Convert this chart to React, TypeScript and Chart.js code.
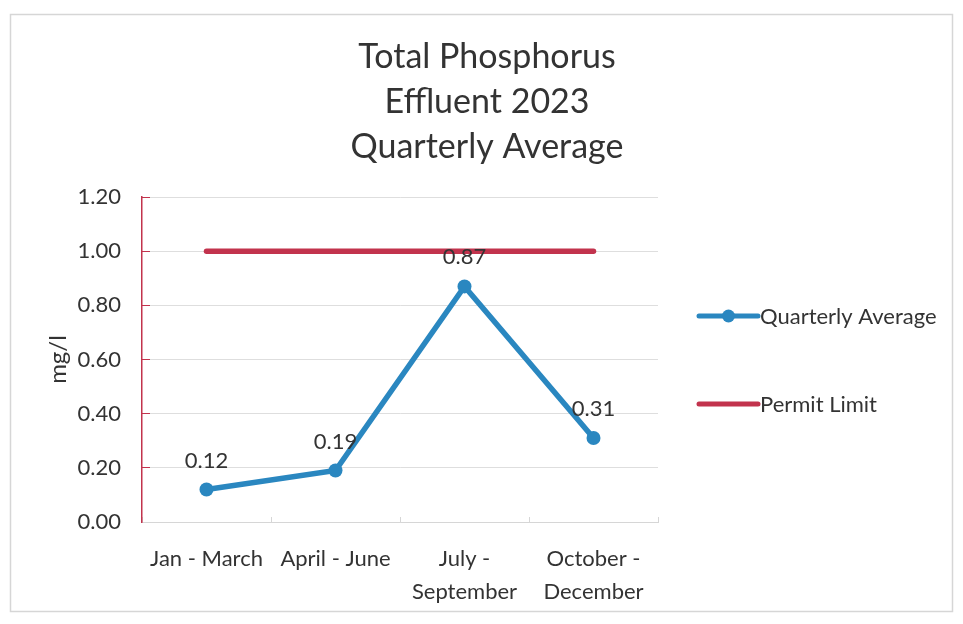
import React, { useEffect, useRef } from "react";
import { Chart, registerables } from "chart.js";

Chart.register(...registerables);

const categories: (string | string[])[] = [
  "Jan - March",
  "April - June",
  ["July -", "September"],
  ["October -", "December"],
];
const quarterlyAverage = [0.12, 0.19, 0.87, 0.31];
const permitLimit = [1.0, 1.0, 1.0, 1.0];
const titleLines = ["Total Phosphorus", "Effluent 2023", "Quarterly Average"];
const yTitle = "mg/l";

const BLUE = "#2a87c0";
const RED = "#c2334d";
const TEXT = "#333333";
const FONT = "Lato";

const framePlugin = {
  id: "frame",
  beforeDraw(chart: any) {
    const { ctx, width, height } = chart;
    ctx.save();
    ctx.fillStyle = "#ffffff";
    ctx.fillRect(0, 0, width, height);
    ctx.strokeStyle = "#d6d6d6";
    ctx.lineWidth = 1.5;
    ctx.strokeRect(10.5, 14.5, width - 21, height - 27);
    ctx.restore();
  },
};

const titlePlugin = {
  id: "titleLines",
  afterDraw(chart: any) {
    const { ctx } = chart;
    ctx.save();
    ctx.font = `34px ${FONT}`;
    ctx.fillStyle = TEXT;
    ctx.textAlign = "center";
    ctx.textBaseline = "middle";
    titleLines.forEach((line, i) => {
      ctx.fillText(line, 487, 57 + i * 45);
    });
    ctx.restore();
  },
};

const dataLabelPlugin = {
  id: "dataLabels",
  afterDatasetsDraw(chart: any) {
    const { ctx } = chart;
    const meta = chart.getDatasetMeta(0);
    const ds = chart.data.datasets[0];
    ctx.save();
    ctx.font = `22px ${FONT}`;
    ctx.fillStyle = TEXT;
    ctx.textAlign = "center";
    ctx.textBaseline = "middle";
    meta.data.forEach((pt: any, i: number) => {
      ctx.fillText(Number(ds.data[i]).toFixed(2), pt.x, pt.y - 29);
    });
    ctx.restore();
  },
};

const legendPlugin = {
  id: "customLegend",
  afterDraw(chart: any) {
    const { ctx } = chart;
    const items = chart.data.datasets;
    const ys = [316, 404];
    ctx.save();
    items.forEach((ds: any, i: number) => {
      const y = ys[i];
      const x0 = 699;
      const x1 = 758;
      ctx.strokeStyle = ds.borderColor;
      ctx.lineWidth = 5;
      ctx.lineCap = "round";
      ctx.beginPath();
      ctx.moveTo(x0, y);
      ctx.lineTo(x1, y);
      ctx.stroke();
      if (ds.pointRadius > 0) {
        ctx.fillStyle = ds.pointBackgroundColor;
        ctx.beginPath();
        ctx.arc((x0 + x1) / 2, y, 6.5, 0, Math.PI * 2);
        ctx.fill();
      }
      ctx.font = `22px ${FONT}`;
      ctx.fillStyle = TEXT;
      ctx.textAlign = "left";
      ctx.textBaseline = "middle";
      ctx.fillText(ds.label, x1 + 2, y + 1);
    });
    ctx.restore();
  },
};

export default function App() {
  const ref = useRef<HTMLCanvasElement>(null);
  useEffect(() => {
    if (!ref.current) return;
    const chart = new Chart(ref.current, {
      type: "line",
      data: {
        labels: categories,
        datasets: [
          {
            label: "Quarterly Average",
            data: quarterlyAverage,
            borderColor: BLUE,
            backgroundColor: BLUE,
            pointBackgroundColor: BLUE,
            pointBorderColor: BLUE,
            borderWidth: 5.5,
            pointRadius: 7,
            pointBorderWidth: 0,
            tension: 0,
          },
          {
            label: "Permit Limit",
            data: permitLimit,
            borderColor: RED,
            backgroundColor: RED,
            borderWidth: 5.5,
            borderCapStyle: "round",
            pointRadius: 0,
            tension: 0,
          },
        ],
      },
      options: {
        animation: false,
        responsive: false,
        maintainAspectRatio: false,
        layout: { padding: { left: 0, right: 305, top: 197, bottom: 0 } },
        plugins: {
          legend: { display: false },
          tooltip: { enabled: false },
          title: { display: false },
        },
        scales: {
          x: {
            offset: true,
            border: { color: "#d6d6d6", width: 1 },
            grid: {
              offset: true,
              drawOnChartArea: false,
              tickLength: -5,
              tickColor: "#d6d6d6",
            },
            ticks: {
              color: TEXT,
              font: { family: FONT, size: 22, lineHeight: 1.5 },
              padding: 25,
              maxRotation: 0,
              autoSkip: false,
            },
            afterFit(scale: any) {
              scale.height = 102;
            },
          },
          y: {
            min: 0,
            max: 1.2,
            border: { color: RED, width: 1.5 },
            grid: {
              color: "#dedede",
              tickColor: RED,
              tickLength: -8,
              lineWidth: 1,
            },
            ticks: {
              stepSize: 0.2,
              color: TEXT,
              font: { family: FONT, size: 22 },
              padding: 29,
              callback: (v: any) => Number(v).toFixed(2),
            },
            title: {
              display: true,
              text: yTitle,
              color: TEXT,
              font: { family: FONT, size: 24 },
              padding: { top: 44, bottom: 0 },
            },
            afterFit(scale: any) {
              scale.width = 142;
            },
          },
        },
      },
      plugins: [framePlugin, dataLabelPlugin, legendPlugin, titlePlugin],
    } as any);
    return () => chart.destroy();
  }, []);
  return (
    <div style={{ position: "absolute", left: 0, top: 0, width: 963, height: 624 }}>
      <canvas ref={ref} width={963} height={624} style={{ display: "block" }} />
    </div>
  );
}
